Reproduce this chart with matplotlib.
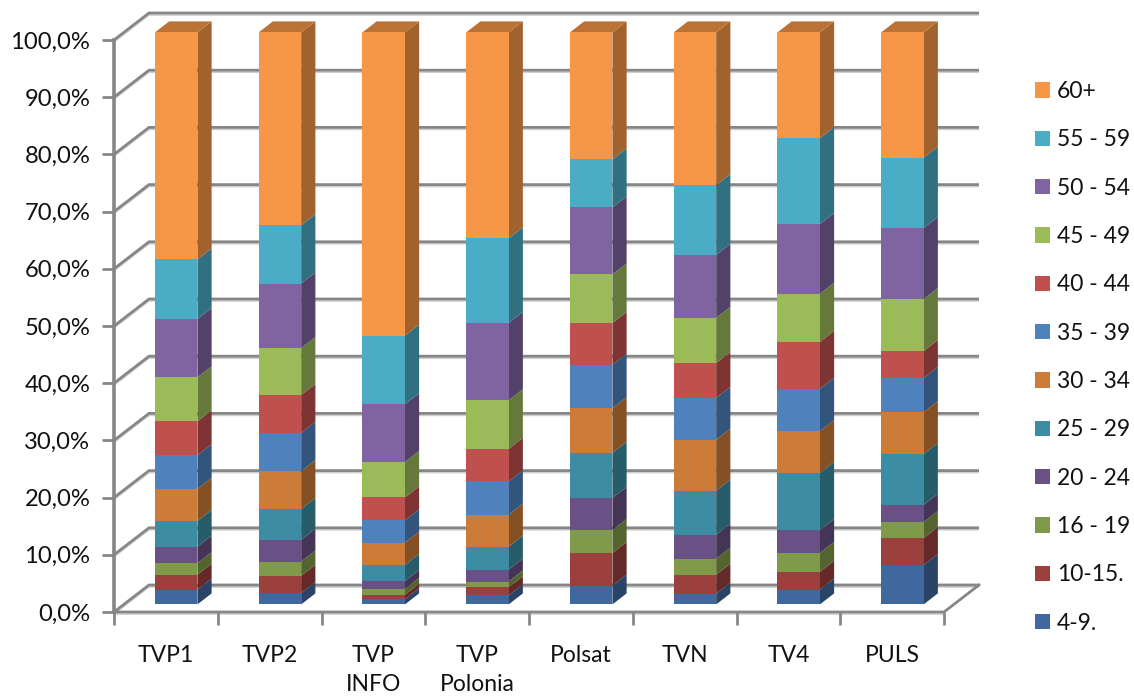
import numpy as np
import matplotlib
matplotlib.use("Agg")
import matplotlib.pyplot as plt
from matplotlib.patches import Polygon, Patch
from matplotlib.colors import to_rgb

plt.rcParams['font.family'] = ['Lato', 'DejaVu Sans']

channels = ["TVP1", "TVP2", "TVP\nINFO", "TVP\nPolonia", "Polsat", "TVN", "TV4", "PULS"]
age_groups = ["4-9.", "10-15.", "16 - 19", "20 - 24", "25 - 29", "30 - 34",
              "35 - 39", "40 - 44", "45 - 49", "50 - 54", "55 - 59", "60+"]
s_4_9 = [2.6, 2.0, 0.9, 1.6, 3.3, 1.9, 2.6, 6.9]
s_10_15 = [2.6, 3.0, 0.8, 1.4, 5.7, 3.3, 3.1, 4.7]
s_16_19 = [2.0, 2.5, 1.0, 1.0, 4.0, 2.8, 3.3, 2.8]
s_20_24 = [2.9, 3.8, 1.4, 2.1, 5.6, 4.2, 4.0, 3.0]
s_25_29 = [4.5, 5.4, 2.8, 4.0, 7.9, 7.7, 10.0, 8.9]
s_30_34 = [5.6, 6.6, 3.9, 5.6, 7.8, 8.9, 7.3, 7.3]
s_35_39 = [5.9, 6.7, 3.9, 5.8, 7.6, 7.3, 7.4, 6.0]
s_40_44 = [5.9, 6.6, 4.0, 5.7, 7.3, 6.1, 8.2, 4.7]
s_45_49 = [7.7, 8.2, 6.2, 8.5, 8.5, 7.9, 8.4, 9.1]
s_50_54 = [10.2, 11.3, 10.1, 13.5, 11.7, 11.0, 12.2, 12.4]
s_55_59 = [10.4, 10.2, 12.0, 14.8, 8.4, 12.2, 15.0, 12.3]
s_60 = [39.7, 33.7, 53.0, 36.0, 22.2, 26.7, 18.5, 21.9]
series = [s_4_9, s_10_15, s_16_19, s_20_24, s_25_29, s_30_34,
          s_35_39, s_40_44, s_45_49, s_50_54, s_55_59, s_60]
colors = ["#3F689E", "#9C403E", "#7F9A48", "#695185", "#3C8DA3", "#CC7B38",
          "#4F81BD", "#C0504D", "#9BBB59", "#8064A2", "#4BACC6", "#F79646"]

W, H = 1134, 698
L, R, B, T = 114, 944, 612, 40
FS = 16.5
fig = plt.figure(figsize=(W / 100, H / 100), dpi=100)
ax = fig.add_axes([L / W, 1 - B / H, (R - L) / W, (B - T) / H])
n = len(channels)
ax.set_xlim(0, n)
ax.set_ylim(0, 100)
px = n / (R - L)
py = 100 / (B - T)
for s in ax.spines.values():
    s.set_visible(False)

GRID = "#868686"
SHADOW = "#CFCFCF"
wall_dx, wall_dy = 35 * px, 27 * py
lw = 2.0
yt = np.arange(0, 101, 10)
for v in yt:
    xs = [0, wall_dx, n + wall_dx]
    ys = [v, v + wall_dy, v + wall_dy]
    ax.plot(xs, [y - 2 * py for y in ys], color=SHADOW, lw=1.2, clip_on=False, zorder=1, solid_capstyle='butt')
    ax.plot(xs, ys, color=GRID, lw=lw, clip_on=False, zorder=1.1, solid_capstyle='butt', solid_joinstyle='miter')
# floor front edges and left axis
ax.plot([0, n], [-2 * py, -2 * py], color=SHADOW, lw=1.2, clip_on=False, zorder=1)
ax.plot([0, n, n + wall_dx], [0, 0, wall_dy], color=GRID, lw=lw, clip_on=False, zorder=1.1, solid_joinstyle='miter')
ax.plot([0, 0], [0, 100], color=GRID, lw=lw + 0.6, clip_on=False, zorder=1.1)

# bars
bar_w = 42.5 * px
off_x, off_y = 10.3 * px, 7.6 * py
depth_x, depth_y = 14.2 * px, 11 * py
zo = 2
centers = np.arange(n) + 0.5
lefts = centers + off_x - bar_w / 2


def shade(c, f):
    return tuple(v * f for v in to_rgb(c))


arr = np.array(series, dtype=float)
for i in range(n):
    base = 0.0
    for j, c in enumerate(colors):
        v = arr[j, i]
        x0 = lefts[i]
        x1 = x0 + bar_w
        y0 = base + off_y
        y1 = y0 + v
        ax.bar(x0, v, width=bar_w, bottom=y0, align='edge', color=c, linewidth=0, zorder=zo + 0.1, clip_on=False)
        ax.add_patch(Polygon([(x1, y0), (x1 + depth_x, y0 + depth_y),
                              (x1 + depth_x, y1 + depth_y), (x1, y1)],
                             closed=True, fc=shade(c, 0.65), ec='none', zorder=zo, clip_on=False))
        base += v
    top = base + off_y
    ax.add_patch(Polygon([(x0, top), (x0 + depth_x, top + depth_y),
                          (x1 + depth_x, top + depth_y), (x1, top)],
                         closed=True, fc=shade(colors[-1], 0.76), ec='none', zorder=zo, clip_on=False))

# axes ticks and labels
ax.set_yticks(yt)
ax.set_yticklabels([f"{v:.1f}%".replace('.', ',') for v in yt], fontsize=FS + 0.6, color="#111111")
ax.tick_params(axis='y', length=9, width=2, color=GRID, pad=8)
ax.set_xticks(np.arange(n + 1), minor=True)
ax.tick_params(axis='x', which='minor', length=9, width=2, color=GRID)
ax.set_xticks(centers)
ax.set_xticklabels(channels, fontsize=FS, color="#111111", linespacing=1.45)
ax.tick_params(axis='x', which='major', length=0, pad=24)

handles = [Patch(facecolor=c, edgecolor='none') for c in colors[::-1]]
leg = ax.legend(handles, age_groups[::-1], loc='upper left',
                bbox_to_anchor=(1035 / W, 1 - 81 / H), bbox_transform=fig.transFigure,
                frameon=False, fontsize=FS, handlelength=0.655, handleheight=0.655,
                handletextpad=0.3, labelspacing=1.193, borderpad=0, borderaxespad=0)
for t in leg.get_texts():
    t.set_color("#111111")

fig.savefig("out.png", dpi=100)
